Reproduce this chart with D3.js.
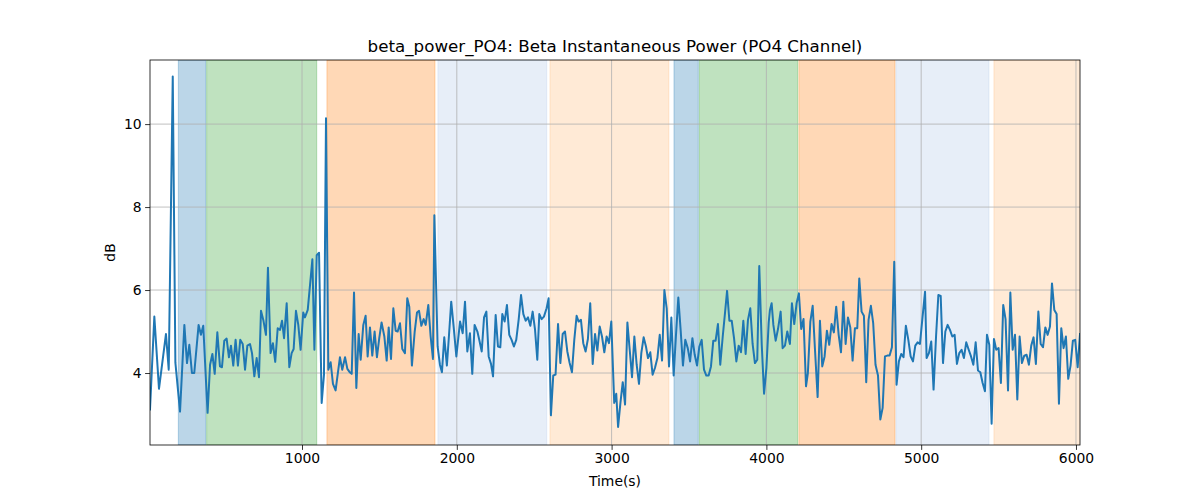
<!DOCTYPE html>
<html>
<head>
<meta charset="utf-8">
<script src="https://cdn.jsdelivr.net/npm/d3@7"></script>
<style>
  body { margin: 0; background: #fff; }
  svg { display: block; font-family: "DejaVu Sans", sans-serif; }
</style>
</head>
<body>
<svg id="chart" width="1200" height="500"></svg>
<script>
// ---- data ----
const timeA = [18,46,76,121,139,165,182,212,240,257,272,289,304,332,347,362,390,406,421,436,453,470,483,498,513,528,541,556,571,586,601,617,632,647,664,677,692,707,722,735,750,767,780,797,812,827,843,858,871,884,901,918,933,946,961,976,991,1008];
const powerA = [3.12,5.36,3.62,4.94,4.08,11.15,4.25,3.07,5.16,4.24,4.68,4.0,4.0,5.16,4.92,5.14,3.04,4.2,4.46,3.98,4.98,4.16,4.14,4.78,4.83,4.38,4.66,4.18,4.8,4.18,4.8,4.7,4.08,4.66,4.7,4.48,3.92,4.36,3.9,5.5,5.28,4.92,6.54,4.48,4.72,4.27,5.08,5.04,5.26,4.84,5.68,4.14,4.48,4.58,5.5,5.16,4.56,5.46];

const timeB = [1019,1037,1067,1080,1095,1110,1127,1142,1155,1170,1185,1200,1217,1245,1260,1278,1293,1308,1321,1336,1351,1366,1379,1396,1411,1424,1439,1454,1469,1484,1499,1514,1532,1547,1560,1575,1590,1605,1618,1633,1648,1665,1680,1693,1710,1728,1743,1756,1771,1786,1799,1816,1831,1846,1855,1876,1891,1904,1919,1936,1949,1964,1980,1997];
const powerB = [5.34,5.52,6.74,4.56,6.84,6.9,3.28,3.96,10.14,4.08,4.26,3.74,3.58,4.38,4.08,4.38,4.1,4.02,3.98,5.94,3.64,4.94,4.32,5.16,5.38,4.4,5.1,4.42,5.0,4.38,4.84,5.22,4.88,4.3,5.1,4.34,5.56,5.02,5.0,5.2,4.58,4.48,5.8,5.6,4.18,5.0,5.46,5.5,5.14,5.3,5.16,5.64,4.88,4.34,7.8,4.64,4.2,4.02,4.86,4.18,4.88,5.72,5.1,4.4];

const timeC = [2021,2038,2053,2068,2085,2100,2115,2133,2145,2161,2176,2191,2206,2221,2234,2251,2266,2281,2294,2309,2324,2339,2354,2369,2384,2400,2415,2430,2445,2460,2475,2490,2505,2520,2533,2548,2563,2580,2593,2608,2623,2638,2654,2669,2684,2699,2714,2729,2744,2759,2774,2787,2802,2817,2832,2847,2862,2878,2893,2908,2923,2938,2953,2968,2983,2998,3017];
const powerC = [5.24,4.96,5.72,4.52,4.96,3.98,5.16,5.0,4.8,4.52,5.34,5.48,4.4,4.22,3.92,5.4,4.64,4.62,5.42,5.24,5.64,4.92,4.8,4.64,4.8,5.3,5.88,5.42,5.26,5.34,5.14,5.48,5.06,4.32,5.42,5.3,5.36,5.56,5.8,2.98,3.94,3.96,5.18,4.24,4.94,5.0,4.52,4.24,4.02,4.8,5.38,5.24,5.28,4.72,4.52,4.82,5.68,4.22,4.94,4.54,5.12,4.88,4.5,4.88,4.72,5.24,3.28];

const timeD = [3030,3042,3057,3072,3087,3102,3117,3132,3147,3162,3177,3192,3207,3222,3235,3250,3265,3280,3296,3311,3326,3341,3356,3371,3386,3401,3416,3431,3446,3461,3476,3492,3507,3522,3537,3552,3567,3582,3597,3612,3627,3642,3657,3672,3687,3702,3718,3733,3746,3761,3776,3791,3806,3821,3836,3851,3866,3881,3896,3911,3926,3941,3954,3970,3985,4000,4015];
const powerD = [3.5,2.7,3.28,3.78,3.24,5.22,4.56,3.9,4.88,4.2,3.74,4.48,4.86,4.64,4.36,4.5,3.96,4.12,4.36,4.92,4.3,6.0,5.56,4.16,5.34,3.94,4.92,5.82,5.04,4.18,4.8,4.6,4.28,4.84,4.44,4.18,4.64,4.8,4.08,3.94,3.94,4.16,4.78,4.78,5.18,4.2,4.88,5.46,5.98,5.26,5.26,4.84,4.28,4.66,4.5,5.26,4.46,5.28,5.56,4.7,4.24,4.32,6.58,4.68,3.5,4.12,5.22];

const timeE = [4023,4034,4045,4060,4075,4092,4105,4120,4135,4152,4165,4180,4195,4210,4225,4240,4256,4268,4284,4299,4314,4331,4346,4361,4376,4391,4406,4421,4436,4451,4467,4482,4497,4512,4527,4542,4557,4572,4587,4600,4615,4630,4645,4660,4675,4690,4705,4721,4736,4751,4766,4781,4796,4811,4826,4841,4856,4871,4886,4901,4917,4932,4947,4962,4977,4992,5007];
const powerE = [5.52,5.68,5.16,4.78,5.06,5.48,4.6,4.66,5.0,4.7,5.68,5.18,5.68,5.92,5.06,5.3,3.68,4.0,5.24,5.62,4.56,3.42,5.26,4.16,4.4,5.02,4.68,5.18,4.98,5.6,4.92,4.5,5.72,4.7,5.34,5.1,4.3,5.08,5.08,6.28,5.48,5.38,3.78,5.28,5.62,5.2,4.2,3.94,2.88,3.16,4.4,4.42,4.42,4.62,6.68,3.72,4.28,4.46,4.38,5.14,4.8,4.4,4.28,4.66,4.74,4.7,5.28];

const timeF = [5025,5035,5050,5065,5080,5096,5111,5126,5141,5156,5171,5186,5201,5216,5231,5246,5261,5276,5291,5307,5322,5337,5352,5367,5382,5397,5412,5425,5440,5455,5470,5485,5500,5515,5530,5545,5561,5576,5591,5606,5621,5636,5651,5666,5681,5696,5711,5726,5741,5757,5772,5787,5802,5817,5832,5845,5860,5875,5890,5905,5920,5935,5950,5965,5980,5995,6011,6026];
const powerF = [5.96,4.36,4.48,4.76,3.6,4.88,5.88,5.86,4.24,5.0,5.16,5.04,4.88,4.92,4.22,4.48,4.56,4.36,4.74,4.56,4.4,4.2,4.74,4.06,4.02,3.76,3.56,4.92,4.68,2.78,4.82,4.56,4.6,3.76,5.64,5.3,3.58,5.94,4.56,4.92,3.36,4.88,4.24,4.42,4.44,4.2,4.66,4.86,4.22,5.48,4.7,4.62,5.1,4.92,5.12,6.16,5.52,5.42,3.26,5.08,4.6,4.88,3.86,4.18,4.78,4.8,4.14,4.94];

// shaded phases
const bandStart = [201, 384, 1161, 1878, 2602, 3403, 3567, 4210, 4837, 5470];
const bandEnd   = [378, 1095, 1859, 2581, 3370, 3560, 4202, 4831, 5438, 6040];
const bandKind  = ["blue", "green", "orange", "lightblue", "lightorange", "blue", "green", "orange", "lightblue", "lightorange"];

const xTicks = [1000, 2000, 3000, 4000, 5000, 6000];
const yTicks = [4, 6, 8, 10];
const xDomain = [18, 6026];
const yDomain = [2.265, 11.545];

const titleText = "beta_power_PO4: Beta Instantaneous Power (PO4 Channel)";
const xLabel = "Time(s)";
const yLabel = "dB";

// ---- drawing ----
const time = [].concat(timeA, timeB, timeC, timeD, timeE, timeF);
const power = [].concat(powerA, powerB, powerC, powerD, powerE, powerF);
const series = time.map((t, i) => ({ t, v: power[i] }));

const kindColor = {
  blue: "#1f77b4", green: "#2ca02c", orange: "#ff7f0e",
  lightblue: "#aec7e8", lightorange: "#ffbb78"
};

const W = 1200, H = 500;
const m = { left: 150, right: 120, top: 60, bottom: 55 };
const svg = d3.select("#chart");

const x = d3.scaleLinear().domain(xDomain).range([m.left, W - m.right]);
const y = d3.scaleLinear().domain(yDomain).range([H - m.bottom, m.top]);

const defs = svg.append("defs");
defs.append("clipPath").attr("id", "clip").append("rect")
  .attr("x", m.left).attr("y", m.top)
  .attr("width", W - m.left - m.right).attr("height", H - m.top - m.bottom);

const plot = svg.append("g").attr("clip-path", "url(#clip)");

// bands
plot.append("g").selectAll("rect")
  .data(bandStart.map((s, i) => ({ s, e: bandEnd[i], k: bandKind[i] })))
  .join("rect")
  .attr("x", d => x(d.s))
  .attr("width", d => x(d.e) - x(d.s))
  .attr("y", m.top)
  .attr("height", H - m.top - m.bottom)
  .attr("fill", d => kindColor[d.k])
  .attr("fill-opacity", 0.3)
  .attr("stroke", d => kindColor[d.k])
  .attr("stroke-opacity", 0.3)
  .attr("stroke-width", 1);

// grid
const grid = plot.append("g").attr("stroke", "#b0b0b0").attr("stroke-width", 0.8);
grid.selectAll(".gx").data(xTicks).join("line")
  .attr("x1", d => x(d)).attr("x2", d => x(d))
  .attr("y1", m.top).attr("y2", H - m.bottom);
grid.selectAll(".gy").data(yTicks).join("line")
  .attr("x1", m.left).attr("x2", W - m.right)
  .attr("y1", d => y(d)).attr("y2", d => y(d));

// line
plot.append("path")
  .datum(series)
  .attr("fill", "none")
  .attr("stroke", "#1f77b4")
  .attr("stroke-width", 2)
  .attr("stroke-linejoin", "round")
  .attr("stroke-linecap", "square")
  .attr("d", d3.line().x(d => x(d.t)).y(d => y(d.v)));

// axes
const xAxis = d3.axisBottom(x).tickValues(xTicks).tickFormat(d3.format("d"))
  .tickSizeOuter(0).tickSizeInner(4.9).tickPadding(3.5);
const yAxis = d3.axisLeft(y).tickValues(yTicks).tickFormat(d3.format("d"))
  .tickSizeOuter(0).tickSizeInner(4.9).tickPadding(3.5);

const gx = svg.append("g").attr("transform", `translate(0,${H - m.bottom})`).call(xAxis);
const gy = svg.append("g").attr("transform", `translate(${m.left},0)`).call(yAxis);
[gx, gy].forEach(g => {
  g.select(".domain").remove();
  g.selectAll(".tick line").attr("stroke", "#000").attr("stroke-width", 0.8);
  g.selectAll(".tick text").attr("fill", "#000")
    .style("font-family", "'DejaVu Sans', sans-serif").style("font-size", "13.9px");
});

// frame
svg.append("rect")
  .attr("x", m.left).attr("y", m.top)
  .attr("width", W - m.left - m.right).attr("height", H - m.top - m.bottom)
  .attr("fill", "none").attr("stroke", "#000").attr("stroke-width", 0.8);

// labels
svg.append("text")
  .attr("x", (m.left + W - m.right) / 2).attr("y", 52)
  .attr("text-anchor", "middle")
  .style("font-size", "16.7px").attr("fill", "#000")
  .text(titleText);

svg.append("text")
  .attr("x", (m.left + W - m.right) / 2).attr("y", 486)
  .attr("text-anchor", "middle")
  .style("font-size", "13.9px").attr("fill", "#000")
  .text(xLabel);

svg.append("text")
  .attr("transform", `translate(115,${(m.top + H - m.bottom) / 2}) rotate(-90)`)
  .attr("text-anchor", "middle")
  .style("font-size", "13.9px").attr("fill", "#000")
  .text(yLabel);
</script>
</body>
</html>
